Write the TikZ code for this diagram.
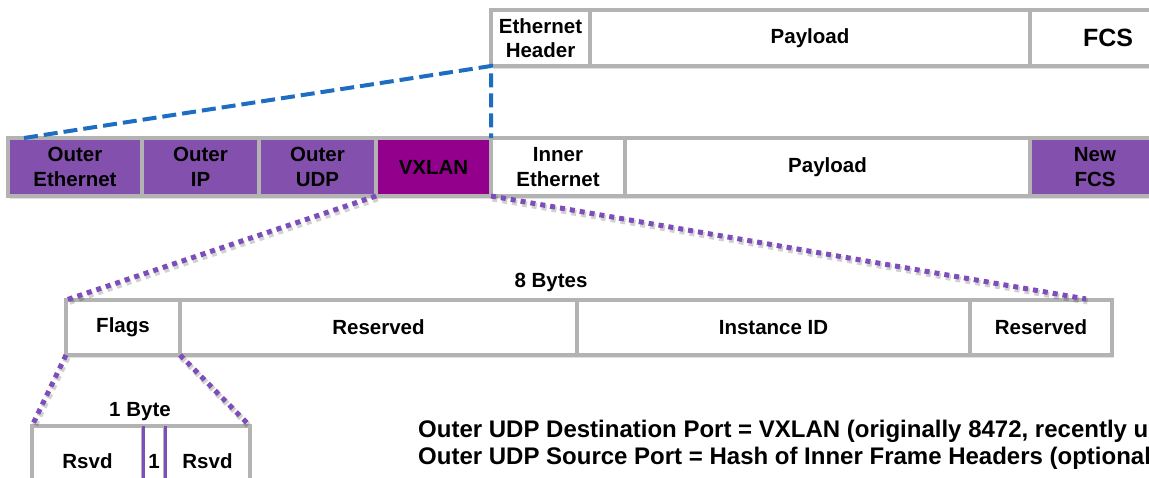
\documentclass[tikz,border=0pt]{standalone}
\usepackage{fontspec}
\setmainfont{Liberation Sans}
\usetikzlibrary{backgrounds}
\definecolor{gridgray}{HTML}{B3B3B3}
\definecolor{outerpurple}{HTML}{8450AE}
\definecolor{vxlanmag}{HTML}{93008B}
\definecolor{linkblue}{HTML}{1F6DC2}
\definecolor{dotpurple}{HTML}{7D4DBA}
\newcommand\cellfont{\bfseries\fontsize{20.5}{24.5}\selectfont}
\newcommand\bigcellfont{\bfseries\fontsize{25}{28}\selectfont}
\newcommand\notefont{\bfseries\fontsize{24}{27}\selectfont}
\begin{document}
\begin{tikzpicture}[x=1pt,y=-1pt,
  cell/.style={draw=gridgray, line width=4pt, inner sep=0pt, outer sep=0pt,
    align=center, font=\cellfont, text=black, fill=white},
  hdr/.style={cell, fill=outerpurple},
  zoomlink/.style={draw=linkblue, line width=4pt, dash pattern=on 14pt off 6pt},
  dotlink/.style={draw=dotpurple, line width=5pt, dash pattern=on 5pt off 5pt},
  dotshade/.style={draw=black, opacity=0.18, line width=6pt, dash pattern=on 5pt off 5pt},
  rowshade/.style={fill=black, opacity=0.12},
  caption/.style={font=\cellfont, inner sep=0pt}]
\useasboundingbox (0,0) rectangle (1149,477);
\clip (0,0) rectangle (1149,477);

% original Ethernet frame
\node[cell, minimum width=99pt, minimum height=56pt] (ehdr) at (540.5,38) {Ethernet\\Header};
\node[cell, minimum width=440pt, minimum height=56pt] (epay) at (810,38) {Payload};
\node[cell, font=\bigcellfont, minimum width=156pt, minimum height=56pt] (efcs) at (1108,38) {FCS};

% VXLAN-encapsulated frame
\node[hdr, minimum width=134pt, minimum height=58pt] (oeth) at (75,167) {Outer\\Ethernet};
\node[hdr, minimum width=117pt, minimum height=58pt] (oip) at (200.5,167) {Outer\\IP};
\node[hdr, minimum width=117pt, minimum height=58pt] (oudp) at (317.5,167) {Outer\\UDP};
\node[cell, fill=vxlanmag, minimum width=115pt, minimum height=58pt] (vxlan) at (433.5,167) {VXLAN};
\node[cell, minimum width=134pt, minimum height=58pt] (ieth) at (558,167) {Inner\\Ethernet};
\node[cell, minimum width=405pt, minimum height=58pt] (ipay) at (827.5,167) {Payload};
\node[hdr, minimum width=130pt, minimum height=58pt] (nfcs) at (1095,167) {New\\FCS};

% VXLAN header, 8 bytes
\node[caption] (eightb) at (551,282) {8 Bytes};
\node[cell, minimum width=114pt, minimum height=55pt] (flags) at (123,327.5) {Flags};
\node[cell, minimum width=397pt, minimum height=55pt] (resa) at (378.5,327.5) {Reserved};
\node[cell, minimum width=393pt, minimum height=55pt] (inst) at (773.5,327.5) {Instance ID};
\node[cell, minimum width=142pt, minimum height=55pt] (resb) at (1041,327.5) {Reserved};
\coordinate (hdrend) at (1086,299);

% flags byte
\node[caption] (oneb) at (140,412) {1 Byte};
\node[cell, minimum width=111pt, minimum height=70pt] (rsvda) at (87.5,461) {Rsvd};
\node[cell, minimum width=22pt, minimum height=70pt] (ibit) at (154,461) {1};
\node[cell, minimum width=85pt, minimum height=70pt] (rsvdb) at (207.5,461) {Rsvd};
\draw[dotpurple, line width=3pt] (ibit.north west) -- (ibit.south west)
  (ibit.north east) -- (ibit.south east);

% row shadows
\begin{scope}[on background layer]
  \fill[rowshade] ([shift={(2,3)}]ehdr.north west) rectangle ([shift={(2,3)}]efcs.south east);
  \fill[rowshade] ([shift={(2,3)}]oeth.north west) rectangle ([shift={(2,3)}]nfcs.south east);
  \fill[rowshade] ([shift={(2,3)}]flags.north west) rectangle ([shift={(2,3)}]resb.south east);
  \fill[rowshade] ([shift={(2,3)}]rsvda.north west) rectangle ([shift={(2,3)}]rsvdb.south east);
\end{scope}

% expansion of the original frame into the tunnel packet
\coordinate (outstart) at (24,138);
\draw[zoomlink] (outstart) -- (ehdr.south west) -- (ieth.north west);

% VXLAN header expansions
\begin{scope}[transform canvas={shift={(1.5pt,-2.5pt)}}]
  \draw[dotshade] (vxlan.south west) -- (flags.north west);
  \draw[dotshade] (vxlan.south east) -- (hdrend);
  \draw[dotshade] (flags.south west) -- (rsvda.north west);
  \draw[dotshade] (flags.south east) -- (rsvdb.north east);
\end{scope}
\draw[dotlink] (vxlan.south west) -- (flags.north west);
\draw[dotlink] (vxlan.south east) -- (hdrend);
\draw[dotlink] (flags.south west) -- (rsvda.north west);
\draw[dotlink] (flags.south east) -- (rsvdb.north east);

% notes
\node[anchor=base west, font=\notefont, inner sep=0pt] (note1) at (418,437)
  {Outer UDP Destination Port = VXLAN (originally 8472, recently updated to 4789)};
\node[anchor=base west, font=\notefont, inner sep=0pt] (note2) at (418,464)
  {Outer UDP Source Port = Hash of Inner Frame Headers (optional)};
\end{tikzpicture}
\end{document}
